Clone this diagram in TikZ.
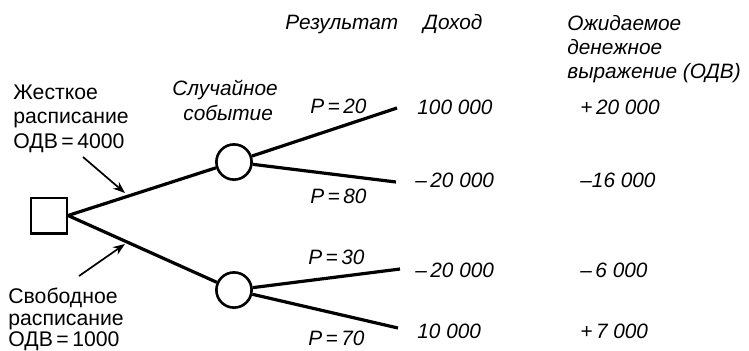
\documentclass[tikz,border=0pt]{standalone}
\usepackage{fontspec}
\setmainfont{Liberation Sans}
\usetikzlibrary{arrows.meta}
\begin{document}
\begin{tikzpicture}[x=0.5pt,y=-0.5pt,
  font=\fontsize{10.6}{12}\selectfont,
  lbl/.style={anchor=base west, inner sep=0pt},
  itl/.style={lbl, font=\fontsize{10.4}{12}\selectfont\itshape},
  branch/.style={line width=1.6pt},
  ptr/.style={line width=0.85pt, -{Stealth[length=6pt,width=4.5pt]}}]
\useasboundingbox (0,0) rectangle (749,350);
% decision and chance nodes
\node[draw, line width=1.2pt, minimum size=17.8pt, inner sep=0pt] (dec) at (49,215.5) {};
\node[circle, draw, line width=1.3pt, minimum size=17.6pt, inner sep=0pt] (c1) at (234,162) {};
\node[circle, draw, line width=1.3pt, minimum size=17.6pt, inner sep=0pt] (c2) at (234,290) {};
% branch ends
\coordinate (e1) at (397,108);
\coordinate (e2) at (396,182);
\coordinate (e3) at (400,269);
\coordinate (e4) at (398,328);
\draw[branch] (dec.east) -- (c1);
\draw[branch] (dec.east) -- (c2);
\draw[branch] (c1) -- (e1);
\draw[branch] (c1) -- (e2);
\draw[branch] (c2) -- (e3);
\draw[branch] (c2) -- (e4);
% pointer arrows
\coordinate (a1s) at (83,157);
\coordinate (a1e) at (125,193);
\coordinate (a2s) at (79,276);
\coordinate (a2e) at (125,244);
\draw[ptr] (a1s) -- (a1e);
\draw[ptr] (a2s) -- (a2e);
% left labels
\node[lbl] (l1a) at (13,99) {Жесткое};
\node[lbl] (l1b) at (13,123) {расписание};
\node[lbl] (l1c) at (13,148) {ОДВ\,=\,4000};
\node[lbl] (l2a) at (8,303) {Свободное};
\node[lbl] (l2b) at (8,325) {расписание};
\node[lbl] (l2c) at (8,346) {ОДВ\,=\,1000};
\node[itl] (ev1) at (172,95) {Случайное};
\node[itl] (ev2) at (183,120) {событие};
% headers
\node[itl] (h1) at (285,29) {Результат};
\node[itl] (h2) at (423,29) {Доход};
\node[itl] (h3a) at (567,30) {Ожидаемое};
\node[itl] (h3b) at (567,54) {денежное};
\node[itl] (h3c) at (567,78) {выражение (ОДВ)};
% probabilities
\node[itl] (p1) at (310,113) {P\,=\,20};
\node[itl] (p2) at (310,203) {P\,=\,80};
\node[itl] (p3) at (308,264) {P\,=\,30};
\node[itl] (p4) at (308,345) {P\,=\,70};
% incomes
\node[itl] (i1) at (417,114) {100 000};
\node[itl] (i2) at (415,187) {–\,20 000};
\node[itl] (i3) at (415,277) {–\,20 000};
\node[itl] (i4) at (417,338) {10 000};
% expected values
\node[itl] (v1) at (580,114) {+\,20 000};
\node[itl] (v2) at (580,187) {–16 000};
\node[itl] (v3) at (580,277) {–\,6 000};
\node[itl] (v4) at (580,338) {+\,7 000};
\end{tikzpicture}
\end{document}
